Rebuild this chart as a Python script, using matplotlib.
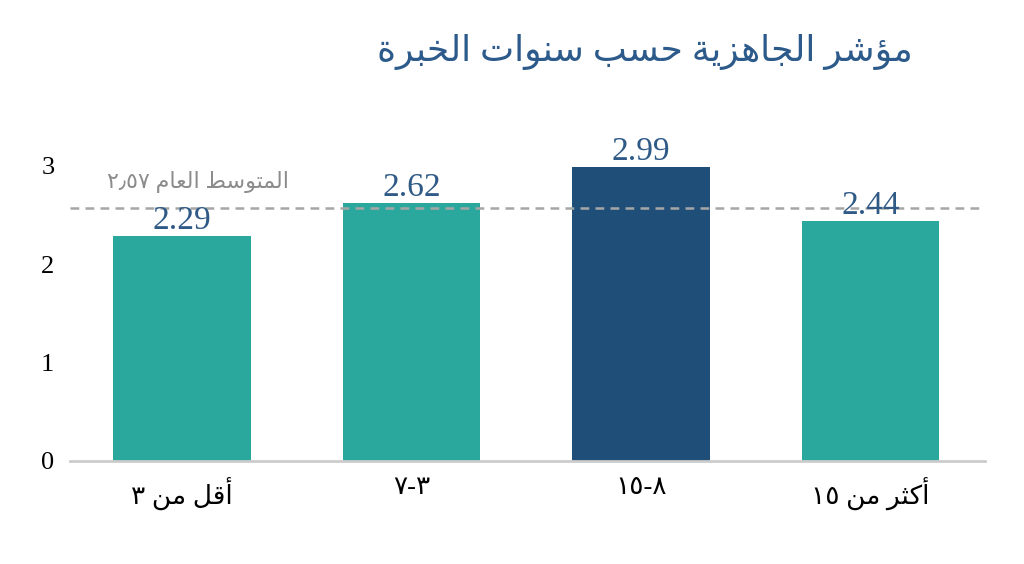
import matplotlib
matplotlib.use("Agg")
import matplotlib.pyplot as plt

# Data
categories = ['أقل من ٣', '٣-٧', '٨-١٥', 'أكثر من ١٥']
values = [2.29, 2.62, 2.99, 2.44]
average = 2.57
average_label = 'المتوسط العام ٢٫٥٧'
highlight = 2
title = 'مؤشر الجاهزية حسب سنوات الخبرة'
yticks = [0, 1, 2, 3]

# Arabic contextual forms: isolated, final, initial, medial
FORMS = {
    'ا': ('\ufe8d', '\ufe8e', None, None),
    'أ': ('\ufe83', '\ufe84', None, None),
    'ؤ': ('\ufe85', '\ufe86', None, None),
    'ب': ('\ufe8f', '\ufe90', '\ufe91', '\ufe92'),
    'ة': ('\ufe93', '\ufe94', None, None),
    'ت': ('\ufe95', '\ufe96', '\ufe97', '\ufe98'),
    'ث': ('\ufe99', '\ufe9a', '\ufe9b', '\ufe9c'),
    'ج': ('\ufe9d', '\ufe9e', '\ufe9f', '\ufea0'),
    'ح': ('\ufea1', '\ufea2', '\ufea3', '\ufea4'),
    'خ': ('\ufea5', '\ufea6', '\ufea7', '\ufea8'),
    'د': ('\ufea9', '\ufeaa', None, None),
    'ر': ('\ufead', '\ufeae', None, None),
    'ز': ('\ufeaf', '\ufeb0', None, None),
    'س': ('\ufeb1', '\ufeb2', '\ufeb3', '\ufeb4'),
    'ش': ('\ufeb5', '\ufeb6', '\ufeb7', '\ufeb8'),
    'ط': ('\ufec1', '\ufec2', '\ufec3', '\ufec4'),
    'ع': ('\ufec9', '\ufeca', '\ufecb', '\ufecc'),
    'ق': ('\ufed5', '\ufed6', '\ufed7', '\ufed8'),
    'ك': ('\ufed9', '\ufeda', '\ufedb', '\ufedc'),
    'ل': ('\ufedd', '\ufede', '\ufedf', '\ufee0'),
    'م': ('\ufee1', '\ufee2', '\ufee3', '\ufee4'),
    'ن': ('\ufee5', '\ufee6', '\ufee7', '\ufee8'),
    'ه': ('\ufee9', '\ufeea', '\ufeeb', '\ufeec'),
    'و': ('\ufeed', '\ufeee', None, None),
    'ي': ('\ufef1', '\ufef2', '\ufef3', '\ufef4'),
}


def shape_word(w):
    out = []
    for i, ch in enumerate(w):
        if ch not in FORMS:
            out.append(ch)
            continue
        f = FORMS[ch]
        prev = w[i - 1] if i > 0 else ''
        nxt = w[i + 1] if i + 1 < len(w) else ''
        join_prev = prev in FORMS and FORMS[prev][2] is not None
        join_next = f[2] is not None and nxt in FORMS
        if join_prev and join_next:
            out.append(f[3])
        elif join_prev:
            out.append(f[1])
        elif join_next:
            out.append(f[2])
        else:
            out.append(f[0])
    return ''.join(reversed(out))


def rtl(text):
    # word order right-to-left, numbers keep their own order
    vis = []
    for t in text.split(' '):
        if any(c in FORMS for c in t):
            vis.append(shape_word(t))
        elif '-' in t:
            vis.append('-'.join(reversed(t.split('-'))))
        else:
            vis.append(t)
    return ' '.join(reversed(vis))


fonts = ['Liberation Serif', 'DejaVu Sans']
teal = '#2aa89e'
navy = '#1f4e79'
label_col = '#2f5a86'

fig = plt.figure(figsize=(10.24, 5.64), dpi=100)
ax = fig.add_axes([0.068, 0.183, 0.894, 0.558])

x = list(range(len(values)))
colors = [navy if i == highlight else teal for i in x]
ax.bar(x, values, width=0.6, color=colors, zorder=2)

for xi, v in zip(x, values):
    ax.text(xi, v + 0.07, f'{v:.2f}', ha='center', va='baseline',
            fontsize=24, color=label_col, family=fonts, zorder=4)

ax.axhline(average, color='#a6a6a6', linestyle=(0, (3.5, 2.5)), linewidth=1.8, zorder=3)
ax.text(0.07, average + 0.26, rtl(average_label), ha='center', va='center',
        fontsize=16, color='#8c8c8c', family=fonts)

ax.set_xlim(-0.49, 3.5)
ax.set_ylim(0, 3.2)
ax.set_yticks(yticks)
ax.set_yticklabels([str(t) for t in yticks], family=fonts, fontsize=19)
ax.set_xticks(x)
ax.set_xticklabels([rtl(c) for c in categories], family=fonts, fontsize=19)
ax.tick_params(axis='both', length=0)
ax.tick_params(axis='x', pad=12)
ax.tick_params(axis='y', pad=11)

for s in ['top', 'right', 'left']:
    ax.spines[s].set_visible(False)
ax.spines['bottom'].set_color('#cccccc')
ax.spines['bottom'].set_linewidth(2)

fig.text(645 / 1024, 1 - 52 / 564, rtl(title), ha='center', va='center',
         fontsize=26, color='#2c5a8a', family=fonts)

fig.savefig('out.png', dpi=100)
